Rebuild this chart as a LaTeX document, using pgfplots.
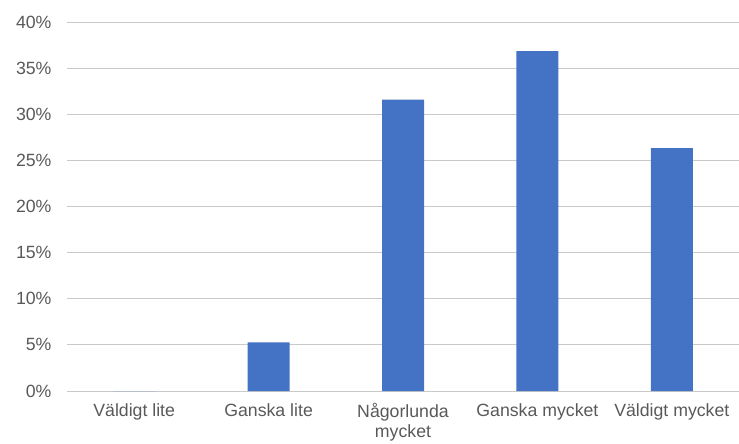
\documentclass[border=0pt]{standalone}
\usepackage{pgfplots}
\pgfplotsset{compat=1.18}
\usetikzlibrary{calc}
\usepackage{fontspec}
\setmainfont{Liberation Sans}
\definecolor{barblue}{HTML}{4472C4}
\definecolor{gridgray}{HTML}{C9C9C9}
\definecolor{txtgray}{HTML}{595959}
\begin{document}
\begin{tikzpicture}
\begin{axis}[
  name=ax,
  at={(0,0)}, anchor=south west,
  scale only axis,
  width=672bp, height=369bp,
  xmin=-0.5, xmax=4.5,
  ymin=0, ymax=40,
  ytick={0,5,...,40},
  yticklabel={\pgfmathprintnumber{\tick}\%},
  xtick={0,1,2,3,4},
  xticklabels={Väldigt lite, Ganska lite, {Någorlunda\\mycket}, Ganska mycket, Väldigt mycket},
  /pgf/number format/assume math mode=true,
  ymajorgrids,
  grid style={gridgray, line width=0.9bp},
  axis line style={draw=none},
  major tick length=0pt,
  tick label style={font=\fontsize{17.7bp}{20bp}\selectfont, text=txtgray},
  yticklabel style={anchor=east, xshift=-12bp},
  xticklabel style={align=center, anchor=north, yshift=-9bp},
  ybar, bar width=42bp,
]
\addplot[fill=barblue, draw=none] coordinates {(0,0) (1,5.26) (2,31.58) (3,36.84) (4,26.32)};
\end{axis}
\pgfresetboundingbox
\path (ax.south west) ++(-67bp,-52bp) rectangle ($(ax.north east)+(0bp,22bp)$);
\end{tikzpicture}
\end{document}
